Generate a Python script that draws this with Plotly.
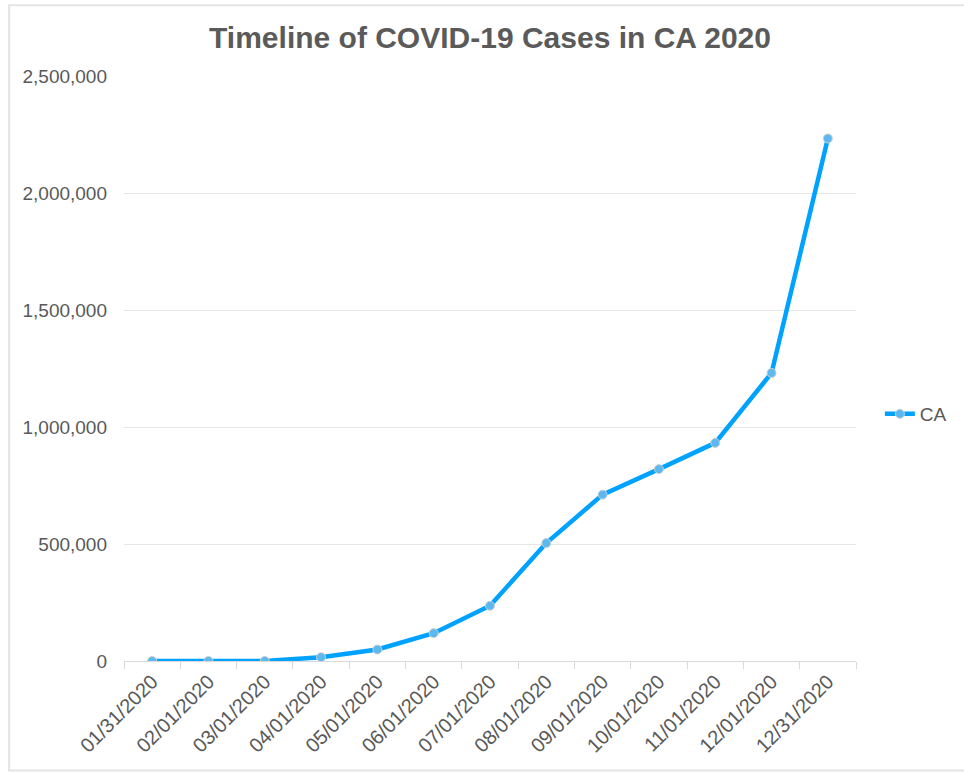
import plotly.graph_objects as go

# Cumulative confirmed COVID-19 cases in California, 2020
dates = ["01/31/2020", "02/01/2020", "03/01/2020", "04/01/2020", "05/01/2020",
         "06/01/2020", "07/01/2020", "08/01/2020", "09/01/2020", "10/01/2020",
         "11/01/2020", "12/01/2020", "12/31/2020"]
ca_cases = [6, 6, 80, 16000, 49000, 119000, 236000, 504000, 711000,
            820000, 932000, 1231000, 2233000]

y_ticks = [0, 500000, 1000000, 1500000, 2000000, 2500000]

TEXT = "#595959"
GRID = "#e6e6e6"
LINE_BLUE = "#00a2ff"

fig = go.Figure()
fig.add_trace(go.Scatter(
    x=dates, y=ca_cases, name="CA", mode="lines+markers",
    line=dict(color=LINE_BLUE, width=4.5),
    marker=dict(size=9, color="#5bb9f0", line=dict(color="#cfcfcf", width=1)),
))

W, H = 964, 772
L, R, T, B = 124, 104, 76, 111
pw, ph = W - L - R, H - T - B


def px(x):
    return (x - L) / pw


def py(y):
    return (H - B - y) / ph


# light frame around the chart
fig.add_shape(type="rect", xref="paper", yref="paper",
              x0=px(8.5), x1=px(980), y0=py(770.5), y1=py(5.3),
              line=dict(color="#e4e4e4", width=2), fillcolor="rgba(0,0,0,0)",
              layer="below")

fig.update_layout(
    width=W, height=H,
    margin=dict(l=L, r=R, t=T, b=B),
    paper_bgcolor="white", plot_bgcolor="white",
    font=dict(family="Liberation Sans, Arial, sans-serif", size=19, color=TEXT),
    title=dict(text="<b>Timeline of COVID-19 Cases in CA 2020</b>",
               x=0.5, xref="paper", xanchor="center",
               y=1 - 37 / H, yref="container", yanchor="middle",
               font=dict(size=30, color="#5a5a5a")),
    showlegend=True,
    legend=dict(x=px(884), xanchor="left", y=py(414), yanchor="middle",
                font=dict(size=19, color=TEXT), bgcolor="rgba(0,0,0,0)",
                itemwidth=30),
    xaxis=dict(type="category", range=[-0.5, len(dates) - 0.5],
               showgrid=False, showline=True,
               linecolor="#d9d9d9", linewidth=1,
               ticks="outside", ticklen=7, tickcolor="#d9d9d9",
               tickson="boundaries", tickangle=-45,
               tickfont=dict(size=20, color=TEXT)),
    yaxis=dict(range=[0, 2500000], tickvals=y_ticks, tickformat=",",
               showgrid=True, gridcolor=GRID, gridwidth=1,
               zeroline=False, showline=False, ticks="",
               ticklabelstandoff=16,
               tickfont=dict(size=19, color=TEXT)),
)

fig.write_html("out.html")
